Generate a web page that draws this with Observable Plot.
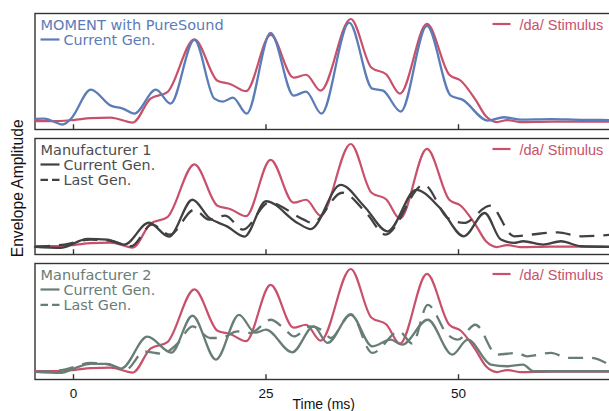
<!DOCTYPE html>
<html><head><meta charset="utf-8">
<script src="https://cdn.jsdelivr.net/npm/d3@7"></script>
<script src="https://cdn.jsdelivr.net/npm/@observablehq/plot@0.6"></script>
<style>
html,body{margin:0;padding:0;background:#fff;overflow:hidden;}
#chart{width:609px;height:411px;overflow:hidden;}
</style></head><body><div id="chart"></div>
<script>
// ---- data (time in ms, envelope amplitude in arbitrary units) ----
const panels = ["PureSound", "Manufacturer 1", "Manufacturer 2"];
const panelTitles = ["MOMENT with PureSound", "Manufacturer 1", "Manufacturer 2"];
const seriesNames = ["Current Gen.", "Last Gen."];
const stimulusName = "/da/ Stimulus";
const xTicks = [0, 25, 50];
const xLabel = "Time (ms)";
const yLabel = "Envelope Amplitude";

const stimT = [-5, -2, 0, 2.25, 4.8, 7.7, 10, 12.2, 15.7, 18.7, 20.4, 22.4, 25.6, 28.6, 30.2, 32.1, 36, 38.7, 40.6, 42.4, 45.9, 48.8, 50.3, 52.2, 53.6, 55, 56.3, 58, 62, 66, 70];
const stimA = [8.5, 8.5, 9.5, 11.5, 12, 7, 31, 37.5, 90.5, 49, 45.5, 38.5, 95, 52, 55, 39, 111, 62, 55.5, 36, 106, 55, 49, 30, 13, 7.5, 9.5, 7.5, 8, 8, 8];

const pureT = [-5, -3.8, -1.4, -0.3, 2.25, 4.85, 6.4, 7.9, 10.7, 12.6, 15.7, 18.3, 19.4, 20.7, 22.5, 25.6, 28.6, 30.2, 32.2, 35.8, 38.8, 40.2, 42.5, 45.9, 49.0, 50.5, 53.8, 55.9, 58, 62, 66, 70];
const pureA = [10.7, 11, 5, 11, 40, 24, 21, 16, 40, 26, 90, 31, 28, 32, 16, 97, 34, 38, 16, 107.3, 41, 39, 18, 104, 34, 30, 9, 12.3, 10, 10.5, 9.7, 9.5];

const m1CurT = [-5, -1.6, 1.8, 4.4, 6.6, 9.8, 12.4, 15.45, 17.6, 20, 22.2, 25, 29.1, 30.8, 34.7, 37.8, 40.8, 44.5, 47.6, 50.7, 53.4, 55.5, 57.2, 58.4, 61, 63.3, 65.9, 70];
const m1CurA = [7.7, 6.7, 15.7, 15, 10, 32, 18, 55, 37, 28, 18, 53.5, 31.7, 25.5, 70, 48, 23.3, 65, 46.7, 18.3, 41.7, 15, 11.7, 13.3, 10, 13.3, 8.3, 7.7];

const m1LastT = [-5, -1.2, 2.25, 5, 7.5, 10.2, 12.5, 15.7, 17.6, 19.7, 22, 25.4, 29.9, 31, 34.9, 38.2, 40.5, 45.5, 48.6, 50.7, 54.1, 57.2, 59.4, 62.9, 65.9, 70];
const m1LastA = [7.7, 10, 15, 13.3, 8.3, 30, 20, 45, 35, 39, 25, 52, 35, 31.7, 62, 40, 20, 70, 36.7, 31.7, 49, 18.3, 20, 22.3, 18.3, 20];

const m2CurT = [-5, -1.6, 0.35, 2.25, 4.4, 6.2, 9.6, 12.7, 15.45, 18.5, 21.5, 23.6, 25, 28.4, 31.2, 33, 36, 38.8, 41.2, 42.7, 46, 49.2, 51.2, 54.2, 56.3, 58.4, 59.7, 64, 70];
const m2CurA = [7.7, 6.7, 12, 15.7, 15.7, 11, 43, 27, 64, 20, 65, 47, 50, 27.3, 53.3, 36.7, 65, 33.3, 40, 35, 60, 25, 40, 15, 13.3, 15, 8.3, 8.3, 8.3];

const m2LastT = [-5, -1.2, 2.25, 4.6, 6.8, 9.2, 11.5, 13.5, 15.45, 17.8, 19.1, 21.3, 23, 25.6, 27.3, 28.6, 30.8, 32.5, 33.4, 36, 38.8, 42.3, 44, 46, 48.6, 49.9, 52.2, 55, 57.6, 58.9, 62, 64.2, 67.2, 69.7];
const m2LastA = [7.7, 10, 16.7, 15, 10, 28, 26, 36, 53.3, 41.7, 41.7, 48.3, 46.7, 60, 51.7, 43.3, 53.3, 48.3, 41.7, 65.7, 26.7, 48.3, 36, 75, 45, 40, 55, 25, 26.7, 23.3, 26.7, 21.7, 21.7, 14];

// ---- styles ----
const RED = "#c9506a", BLUE = "#5b7cb8", DARK = "#414141", GREEN = "#687d76";
const panelColor = [BLUE, DARK, GREEN];
const panelTextColor = [BLUE, "#4d4d4d", GREEN];
const LEFT_FONT = '"DejaVu Sans", Verdana, sans-serif';
const RIGHT_FONT = '"Liberation Sans", Arial, sans-serif';

const rows = (T, A, panel) => T.map((t, i) => ({t, a: A[i], panel}));
const curData = [rows(pureT, pureA, panels[0]), rows(m1CurT, m1CurA, panels[1]), rows(m2CurT, m2CurA, panels[2])];
const lastData = [null, rows(m1LastT, m1LastA, panels[1]), rows(m2LastT, m2LastA, panels[2])];

const lineShape = {draw(context, l) { context.moveTo(0, 0); context.lineTo(0, -l); }};

const marks = [
  Plot.frame({stroke: "#333", strokeWidth: 1.4}),
  Plot.ruleX(d3.cross(panels, xTicks), {x: d => d[1], fy: d => d[0], y1: 0, y2: 4.8, stroke: "#333", strokeWidth: 1.4})
];

panels.forEach((p, i) => {
  marks.push(Plot.line(rows(stimT, stimA, p), {x: "t", y: "a", fy: "panel", stroke: RED, strokeWidth: 2.2, curve: "monotone-x"}));
  if (lastData[i]) marks.push(Plot.line(lastData[i], {x: "t", y: "a", fy: "panel", stroke: panelColor[i], strokeWidth: 2.3, strokeDasharray: "15,9", strokeLinecap: "butt", curve: "monotone-x"}));
  marks.push(Plot.line(curData[i], {x: "t", y: "a", fy: "panel", stroke: panelColor[i], strokeWidth: 2.3, curve: "monotone-x"}));

  // left legend
  marks.push(Plot.text([panelTitles[i]], {fy: () => p, text: d => d, frameAnchor: "top-left", dx: 5.5, dy: 16.5, lineAnchor: "bottom", textAnchor: "start", fill: panelTextColor[i], fontFamily: LEFT_FONT, fontSize: 14.5}));
  const nRows = lastData[i] ? 2 : 1;
  for (let k = 0; k < nRows; k++) {
    marks.push(Plot.vector([seriesNames[k]], {fy: () => p, frameAnchor: "top-left", dx: 5.5, dy: 26 + 15.3 * k, length: 19, rotate: 90, anchor: "start", shape: lineShape, stroke: panelColor[i], strokeWidth: 2.2, strokeLinecap: "butt", strokeDasharray: k ? "7.5,4" : null}));
    marks.push(Plot.text([seriesNames[k]], {fy: () => p, text: d => d, frameAnchor: "top-left", dx: 28.5, dy: 31.5 + 15 * k, lineAnchor: "bottom", textAnchor: "start", fill: panelTextColor[i], fontFamily: LEFT_FONT, fontSize: 14.3}));
  }
  // right legend
  marks.push(Plot.vector([stimulusName], {fy: () => p, frameAnchor: "top-left", dx: 457.5, dy: 10.5, length: 18, rotate: 90, anchor: "start", shape: lineShape, stroke: RED, strokeWidth: 2.2, strokeLinecap: "butt"}));
  marks.push(Plot.text([stimulusName], {fy: () => p, text: d => d, frameAnchor: "top-left", dx: 484.5, dy: 16.5, lineAnchor: "bottom", textAnchor: "start", fill: RED, fontFamily: RIGHT_FONT, fontSize: 14.5}));
});

marks.push(Plot.axisX(xTicks, {tickSize: 0, tickPadding: 9, fontSize: 13.5, fill: "#111", label: null}));
marks.push(Plot.text([xLabel], {fy: () => panels[2], text: d => d, frameAnchor: "bottom", dy: 29.5, lineAnchor: "bottom", fontSize: 14, fill: "#111"}));
marks.push(Plot.text([yLabel], {fy: () => panels[1], text: d => d, frameAnchor: "left", dx: -17.5, dy: -8.2, rotate: -90, textAnchor: "middle", lineAnchor: "middle", fontSize: 15.6, fill: "#111"}));

const chart = Plot.plot({
  width: 612, height: 411,
  marginTop: 13, marginBottom: 31, marginLeft: 34.5, marginRight: 0,
  x: {domain: [-5, 70], label: null},
  y: {domain: [0, 116.5], axis: null},
  fy: {domain: panels, axis: null, paddingInner: 0.07, paddingOuter: 0, label: null},
  style: {fontFamily: RIGHT_FONT, fontSize: "13.5px", background: "white", overflow: "visible", maxWidth: "none"},
  marks
});
document.getElementById("chart").appendChild(chart);
</script></body></html>
